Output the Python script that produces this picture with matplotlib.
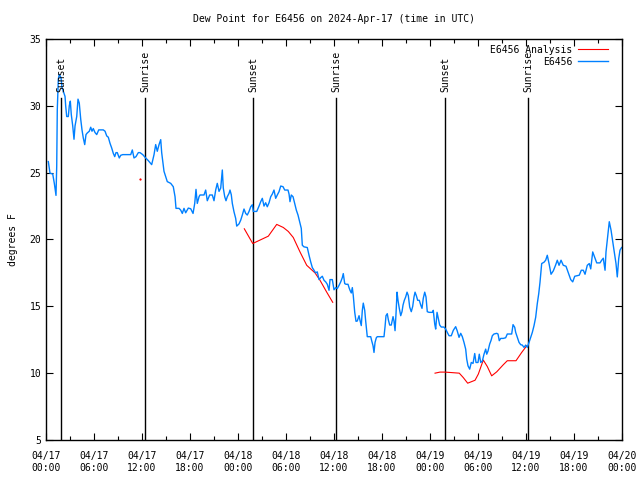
import numpy as np
import pandas as pd
import matplotlib
matplotlib.use('Agg')
import matplotlib.pyplot as plt
import matplotlib.dates as mdates

plt.rcParams['font.family'] = 'DejaVu Sans Mono'
plt.rcParams['font.size'] = 7

t0 = pd.Timestamp('2024-04-17 00:00')

# estacion: horas desde 04/17 00:00 UTC y punto de rocio (F)
obs_horas = [0.29, 0.5, 0.84, 1.04, 1.25, 1.34, 1.41, 1.54, 1.66, 1.88, 2.0, 2.16, 2.38, 2.46,
             2.59, 2.79, 2.91, 3.04, 3.16, 3.34, 3.5, 3.63, 3.84, 4.0, 4.16, 4.34, 4.5, 4.66,
             4.84, 5.0, 5.16, 5.41, 5.59, 5.75, 5.91, 6.13, 6.34, 6.59, 7.16, 7.38, 7.59, 7.79,
             8.0, 8.21, 8.41, 8.59, 8.75, 8.91, 9.16, 9.34, 9.59, 10.59, 10.79, 11.0, 11.25,
             11.54, 11.75, 12.09, 12.46, 12.79, 13.21, 13.5, 13.71, 13.91, 14.13, 14.34, 14.46,
             14.63, 14.75, 14.96, 15.16, 15.59, 15.91, 16.13, 16.25, 16.63, 16.84, 17.04, 17.25,
             17.46, 17.79, 18.09, 18.38, 18.59, 18.75, 18.91, 19.13, 19.25, 19.75, 19.96, 20.16,
             20.46, 20.79, 21.0, 21.21, 21.41, 21.63, 21.84, 22.04, 22.16, 22.34, 22.5, 22.66,
             22.88, 23.0, 23.16, 23.29, 23.5, 23.71, 23.84, 24.13, 24.34, 24.54, 24.75, 24.96,
             25.16, 25.38, 25.59, 25.79, 25.91, 26.34, 26.63, 26.84, 27.04, 27.25, 27.46, 27.66,
             27.88, 28.09, 28.29, 28.5, 28.71, 28.91, 29.13, 29.34, 29.63, 29.84, 30.25, 30.38,
             30.5, 30.66, 30.88, 31.09, 31.29, 31.5, 31.75, 31.91, 32.04, 32.25, 32.66, 32.88,
             33.09, 33.29, 33.5, 33.71, 33.91, 34.13, 34.34, 34.54, 34.75, 34.96, 35.16, 35.38,
             35.5, 35.79, 36.0, 36.21, 36.41, 36.63, 36.84, 37.04, 37.16, 37.34, 37.5, 37.75,
             37.88, 38.0, 38.16, 38.29, 38.41, 38.59, 38.75, 38.91, 39.13, 39.25, 39.41, 39.54,
             39.66, 39.84, 39.96, 40.09, 40.16, 40.59, 40.71, 40.88, 41.0, 41.13, 41.29, 41.41,
             42.25, 42.38, 42.5, 42.66, 42.79, 42.96, 43.16, 43.38, 43.5, 43.63, 43.75, 43.88,
             44.0, 44.16, 44.34, 44.5, 44.63, 44.79, 44.96, 45.13, 45.29, 45.46, 45.66, 45.84,
             46.0, 46.13, 46.29, 46.46, 46.66, 46.84, 47.0, 47.16, 47.34, 47.5, 47.66, 47.88,
             48.29, 48.41, 48.59, 48.71, 48.88, 49.04, 49.21, 49.41, 49.75, 49.96, 50.16, 50.38,
             50.66, 50.91, 51.21, 51.41, 51.63, 51.84, 52.04, 52.25, 52.46, 52.59, 52.75, 52.96,
             53.16, 53.38, 53.59, 53.75, 54.0, 54.16, 54.34, 54.54, 54.75, 54.96, 55.09, 55.25,
             55.46, 55.63, 55.79, 56.0, 56.34, 56.5, 56.66, 56.84, 57.16, 57.46, 57.66, 58.21,
             58.38, 58.59, 58.71, 58.91, 59.13, 59.34, 59.54, 59.75, 59.96, 60.16, 60.38, 60.59,
             60.79, 61.0, 61.21, 61.41, 61.59, 61.75, 61.96, 62.25, 62.46, 62.66, 62.88, 63.13,
             63.41, 63.71, 63.91, 64.13, 64.38, 64.66, 65.0, 65.29, 65.59, 65.84, 66.09, 66.66,
             66.91, 67.16, 67.38, 67.66, 67.91, 68.09, 68.34, 68.54, 68.84, 69.25, 69.46, 69.66,
             69.88, 70.0, 70.21, 70.41, 70.63, 70.84, 71.0, 71.25, 71.41, 71.59, 71.75, 71.95]
obs_valores = [25.83, 24.96, 24.9, 24.2, 23.3, 25.5, 29.7, 32.0, 32.35, 32.1, 31.35, 31.1, 30.7, 30.0,
               29.2, 29.2, 30.0, 30.35, 29.35, 28.5, 27.5, 28.5, 29.2, 30.5, 30.2, 29.0, 28.2, 27.6,
               27.1, 27.85, 27.97, 28.1, 28.4, 28.1, 28.3, 28.0, 27.85, 28.2, 28.2, 28.1, 27.75, 27.65,
               27.2, 26.85, 26.45, 26.2, 26.5, 26.5, 26.1, 26.3, 26.35, 26.35, 26.7, 26.1, 26.2,
               26.5, 26.5, 26.35, 26.1, 25.9, 25.6, 26.34, 27.1, 26.6, 27.1, 27.47, 26.5,
               25.7, 25.1, 24.7, 24.33, 24.2, 23.95, 23.2, 22.33, 22.33, 22.2, 21.95, 22.33,
               22.0, 22.35, 22.3, 21.95, 22.7, 23.75, 22.7, 23.2, 23.33, 23.33, 23.7, 22.9,
               23.33, 23.33, 22.9, 23.7, 24.2, 23.6, 23.85, 25.2, 23.85, 23.2, 22.9, 23.2,
               23.45, 23.7, 23.35, 22.7, 22.07, 21.58, 21.0, 21.17, 21.45, 21.83, 22.28, 21.95,
               21.83, 22.1, 22.45, 22.6, 22.1, 22.1, 22.5, 22.83, 23.08, 22.5, 22.75, 22.45,
               22.75, 23.2, 23.4, 23.7, 23.08, 23.33, 23.58, 24.0, 23.95, 23.7, 23.7, 23.4,
               22.83, 23.33, 23.2, 22.7, 22.2, 21.83, 21.2, 20.83, 19.57, 19.45, 19.4, 18.82,
               18.32, 17.9, 17.7, 17.5, 17.58, 17.0, 17.15, 17.25, 16.95, 16.83, 16.65, 16.2,
               17.0, 17.0, 16.24, 16.4, 16.33, 16.57, 16.83, 17.15, 17.45, 16.7, 16.65, 16.65,
               16.4, 16.2, 16.0, 16.4, 15.8, 14.56, 13.88, 13.9, 14.3, 13.95, 13.56, 14.7,
               15.24, 14.7, 13.9, 13.18, 12.73, 12.73, 12.43, 12.05, 11.55, 12.3, 12.65, 12.73,
               12.73, 13.48, 14.3, 14.45, 14.0, 13.6, 13.6, 14.23, 13.9, 13.18, 14.43, 16.06,
               15.45, 14.85, 14.3, 14.6, 15.1, 15.45, 15.7, 16.06, 15.8, 14.95, 14.6, 15.0,
               15.7, 16.06, 15.8, 15.45, 15.45, 15.1, 14.85, 15.6, 16.06, 15.7, 14.6, 14.55,
               14.55, 14.7, 13.68, 13.3, 14.55, 14.1, 13.6, 13.45, 13.45, 13.3, 13.05, 12.8,
               12.8, 13.2, 13.48, 13.15, 12.68, 12.98, 12.73, 12.3, 11.8, 11.05, 10.55, 10.3,
               10.8, 10.73, 11.47, 10.8, 10.8, 11.42, 10.8, 10.9, 11.42, 11.8, 11.42, 11.65,
               12.18, 12.45, 12.8, 12.93, 12.98, 12.93, 12.43, 12.6, 12.6, 12.65, 12.93, 12.93,
               13.63, 13.43, 13.05, 12.68, 12.3, 12.13, 12.1, 11.93, 12.1, 11.93, 12.3, 12.68,
               13.05, 13.55, 14.18, 15.2, 15.94, 16.8, 18.2, 18.3, 18.45, 18.82, 18.2, 17.4,
               17.65, 18.1, 18.45, 18.07, 18.45, 18.07, 18.0, 17.5, 17.0, 16.83, 17.25, 17.33,
               17.7, 17.7, 17.4, 18.07, 18.2, 17.8, 19.07, 18.75, 18.25, 18.25, 18.45, 18.6,
               17.7, 19.07, 20.2, 21.33, 20.7, 19.82, 19.2, 18.2, 17.2, 18.57, 19.2, 19.4]

# analisis (dos tramos y un punto suelto)
ana1_horas = [24.79, 25.84, 27.79, 28.84, 29.66, 30.29, 30.91, 31.75, 32.59, 33.63, 34.25, 35.09, 35.84]
ana1_valores = [20.8, 19.7, 20.25, 21.13, 20.9, 20.6, 20.15, 19.07, 18.07, 17.5, 16.95, 16.06, 15.3]
ana2_horas = [48.63, 49.25, 49.88, 51.66, 52.16, 52.71, 53.21, 53.63, 54.04, 54.66, 55.16, 55.71,
              56.34, 57.16, 57.66, 58.75, 59.46, 60.09]
ana2_valores = [10.0, 10.08, 10.08, 10.0, 9.67, 9.25, 9.37, 9.47, 9.93, 10.98, 10.5, 9.8,
                10.1, 10.63, 10.93, 10.93, 11.55, 12.05]
ana_suelto_hora = [11.79]
ana_suelto_valor = [24.5]

# salida / puesta de sol
sol_horas = [1.92, 12.42, 25.92, 36.29, 49.92, 60.29]
sol_textos = ['Sunset', 'Sunrise', 'Sunset', 'Sunrise', 'Sunset', 'Sunrise']


def a_fecha(h):
    return t0 + pd.to_timedelta(np.array(h), unit='h')


azul = '#0080ff'
rojo = '#ff0000'

fig = plt.figure(figsize=(6.4, 4.8), dpi=100)
ax = fig.add_axes([46/640, 1-440/480, 576/640, 401/480])

for h, txt in zip(sol_horas, sol_textos):
    x = a_fecha([h])[0]
    ax.plot([x, x], [5, 30.6], color='black', lw=1.0, zorder=1)
    ax.text(x, 31.0, txt, rotation=90, ha='center', va='bottom', fontsize=7, zorder=3)

ax.plot(a_fecha(ana1_horas), ana1_valores, color=rojo, lw=0.8, label='E6456 Analysis', zorder=2)
ax.plot(a_fecha(ana2_horas), ana2_valores, color=rojo, lw=0.8, zorder=2)
ax.plot(a_fecha(ana_suelto_hora), ana_suelto_valor, color=rojo, marker='s', ms=0.6, lw=0, zorder=2)
ax.plot(a_fecha(obs_horas), obs_valores, color=azul, lw=1.0, label='E6456', zorder=2)

ax.set_xlim(t0, t0 + pd.Timedelta(hours=72))
ax.set_ylim(5, 35)
ax.set_yticks(np.arange(5, 36, 5))
ax.xaxis.set_major_locator(mdates.HourLocator(byhour=[0, 6, 12, 18]))
ax.xaxis.set_minor_locator(mdates.HourLocator(byhour=[3, 9, 15, 21]))
ax.xaxis.set_major_formatter(mdates.DateFormatter('%m/%d\n%H:%M'))
ax.tick_params(which='both', direction='in', top=True, right=True, labelsize=7)
ax.tick_params(which='major', length=5, width=0.8)
ax.tick_params(which='minor', length=3, width=0.8)
ax.tick_params(axis='x', pad=8)
for s in ax.spines.values():
    s.set_linewidth(1.0)

ax.set_ylabel('degrees F', fontsize=7, labelpad=8)
ax.set_title('Dew Point for E6456 on 2024-Apr-17 (time in UTC)', fontsize=7, pad=12)

leg = ax.legend(loc='upper right', bbox_to_anchor=(0.985, 1.0), frameon=False, fontsize=7,
                markerfirst=False, handlelength=3.0, borderaxespad=0.2, labelspacing=0.2,
                handletextpad=0.6)
for t in leg.get_texts():
    t.set_ha('right')

fig.savefig('out.png', dpi=100)
